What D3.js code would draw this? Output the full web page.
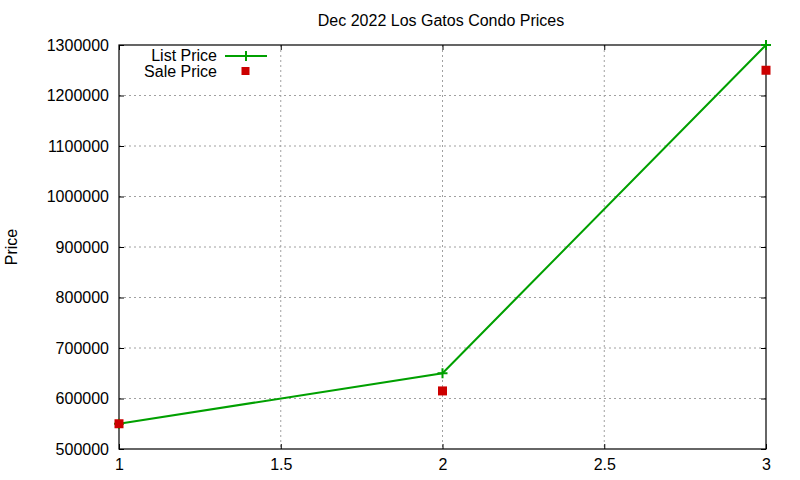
<!DOCTYPE html>
<html><head><meta charset="utf-8">
<script src="https://cdn.jsdelivr.net/npm/d3@7"></script>
<style>body{margin:0;background:#fff}text{font-family:"Liberation Sans",Arial,sans-serif}</style>
</head><body><svg id="c" width="800" height="480"></svg>
<script>
const xs = [1, 2, 3];
const listPrice = [550000, 650000, 1300000];
const salePrice = [550000, 615000, 1250000];
const xTicks = [1, 1.5, 2, 2.5, 3];
const yTicks = [500000, 600000, 700000, 800000, 900000, 1000000, 1100000, 1200000, 1300000];
const title = "Dec 2022 Los Gatos Condo Prices";
const yLabel = "Price";
const seriesNames = ["List Price", "Sale Price"];

const svg = d3.select("#c");
const L = 119, R = 766, T = 45, B = 449;
const x = d3.scaleLinear().domain([1, 3]).range([L, R]);
const y = d3.scaleLinear().domain([500000, 1300000]).range([B, T]);
const fs = 16;
const green = "#00a000", red = "#cc0000";

// grid
const g = svg.append("g");
g.selectAll(".gx").data(xTicks.slice(1, -1)).join("line")
  .attr("x1", d => x(d)).attr("x2", d => x(d)).attr("y1", T).attr("y2", B)
  .attr("stroke", "#a0a0a0").attr("stroke-dasharray", "2,3").attr("stroke-width", 1);
g.selectAll(".gy").data(yTicks.slice(1, -1)).join("line")
  .attr("x1", L).attr("x2", R).attr("y1", d => y(d)).attr("y2", d => y(d))
  .attr("stroke", "#a0a0a0").attr("stroke-dasharray", "2,3").attr("stroke-width", 1);

// axes
const xAxis = d3.axisBottom(x).tickValues(xTicks).tickFormat(d3.format("")).tickSizeInner(-5).tickSizeOuter(0).tickPadding(10);
const yAxis = d3.axisLeft(y).tickValues(yTicks).tickFormat(d3.format("d")).tickSizeInner(-5).tickSizeOuter(0).tickPadding(10);
const xa = svg.append("g").attr("transform", `translate(0,${B})`).call(xAxis);
const ya = svg.append("g").attr("transform", `translate(${L},0)`).call(yAxis);
const xt = svg.append("g").attr("transform", `translate(0,${T})`).call(d3.axisTop(x).tickValues(xTicks).tickFormat("").tickSizeInner(-5).tickSizeOuter(0));
const yr = svg.append("g").attr("transform", `translate(${R},0)`).call(d3.axisRight(y).tickValues(yTicks).tickFormat("").tickSizeInner(-5).tickSizeOuter(0));
[xa, ya, xt, yr].forEach(a => {
  a.select(".domain").remove();
  a.selectAll("line").attr("stroke", "#000");
  a.selectAll("text").attr("font-size", fs).attr("fill", "#000").attr("font-family", "Liberation Sans, Arial, sans-serif");
});
svg.append("rect").attr("x", L).attr("y", T).attr("width", R - L).attr("height", B - T)
  .attr("fill", "none").attr("stroke", "#000").attr("stroke-width", 1.2);

// title & label
svg.append("text").attr("x", 441).attr("y", 26).attr("text-anchor", "middle").attr("font-size", fs).text(title);
svg.append("text").attr("transform", "translate(17,247) rotate(-90)").attr("text-anchor", "middle").attr("font-size", fs).text(yLabel);

// list line
const pts = xs.map((d, i) => [d, listPrice[i]]);
svg.append("path").datum(pts).attr("fill", "none").attr("stroke", green).attr("stroke-width", 2)
  .attr("d", d3.line().x(d => x(d[0])).y(d => y(d[1])));
const plus = (sel, cx, cy) => {
  sel.append("path").attr("d", `M${cx-5},${cy}H${cx+5}M${cx},${cy-5}V${cy+5}`).attr("stroke", green).attr("stroke-width", 2);
};
pts.forEach(p => plus(svg, x(p[0]), y(p[1])));

// sale points
svg.selectAll(".sp").data(xs.map((d, i) => [d, salePrice[i]])).join("rect")
  .attr("x", d => x(d[0]) - 4.5).attr("y", d => y(d[1]) - 4.5).attr("width", 9).attr("height", 9).attr("fill", red);

// legend
svg.append("text").attr("x", 217).attr("y", 61).attr("text-anchor", "end").attr("font-size", fs).text(seriesNames[0]);
svg.append("text").attr("x", 217).attr("y", 77).attr("text-anchor", "end").attr("font-size", fs).text(seriesNames[1]);
svg.append("line").attr("x1", 225).attr("x2", 267).attr("y1", 56).attr("y2", 56).attr("stroke", green).attr("stroke-width", 2);
plus(svg, 246, 56);
svg.append("rect").attr("x", 241.5).attr("y", 67).attr("width", 8).attr("height", 8).attr("fill", red);
</script></body></html>
